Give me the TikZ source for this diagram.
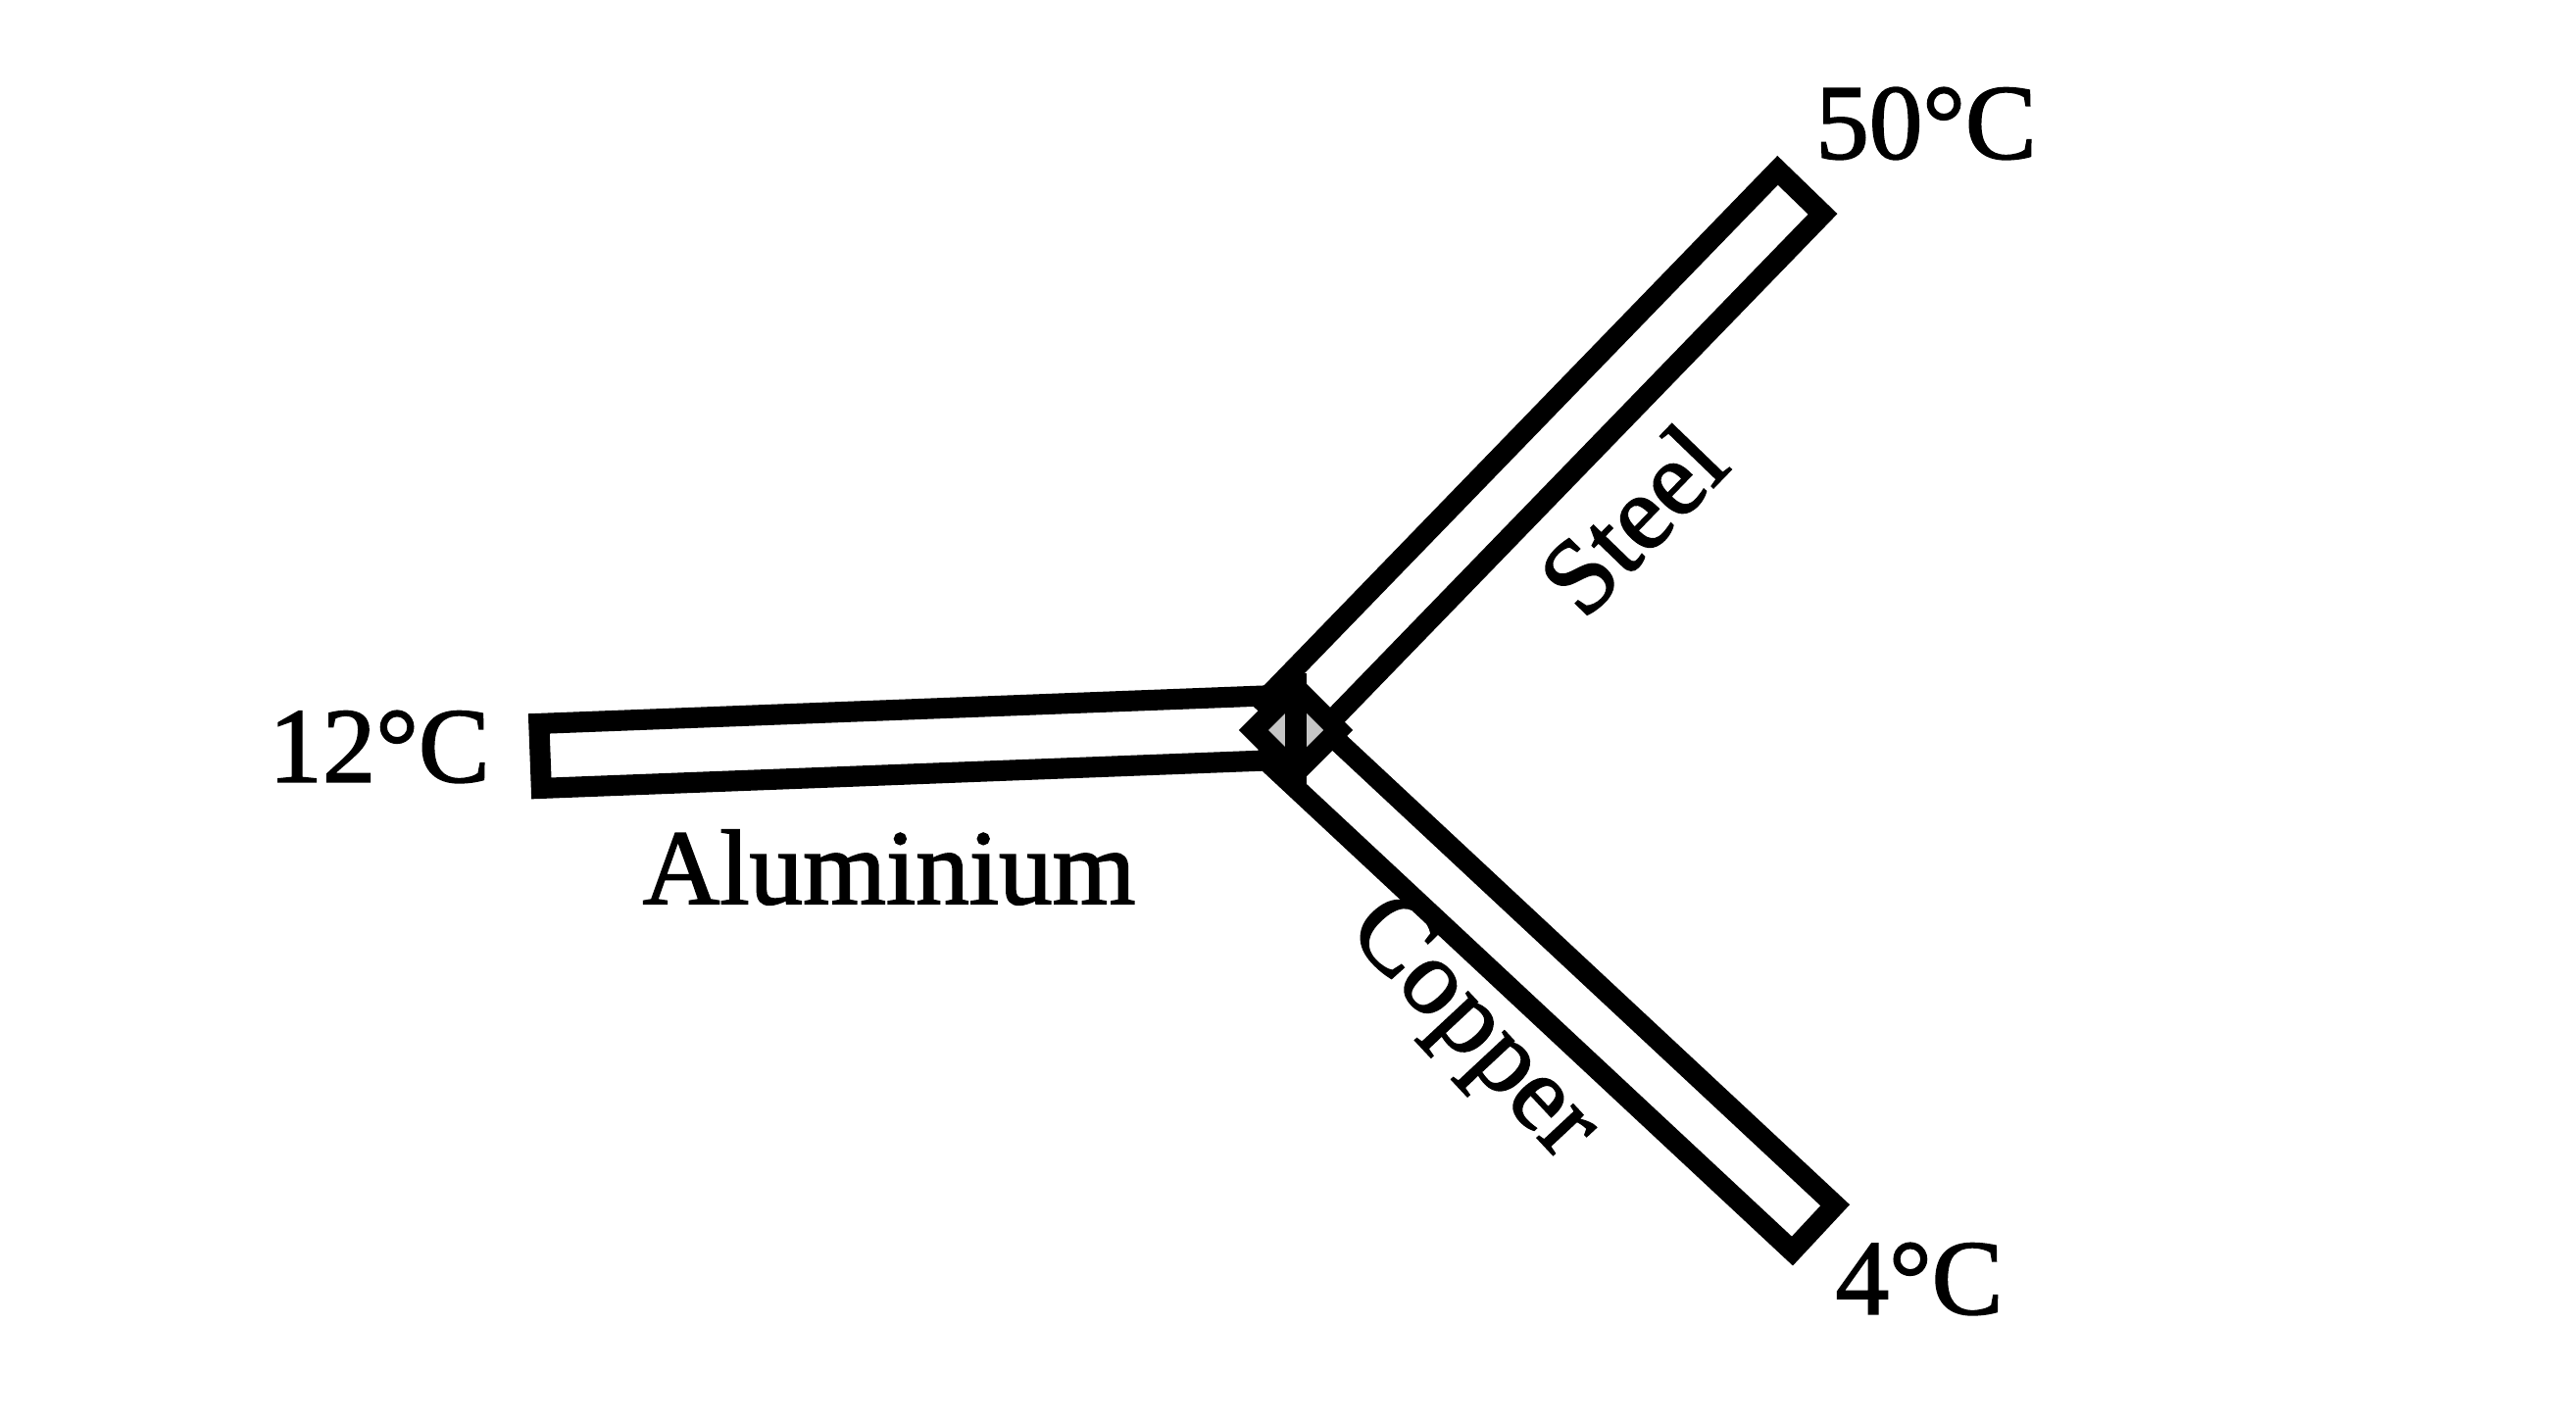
\documentclass[tikz,border=0pt]{standalone}
\usepackage{fontspec}
\setmainfont{Liberation Serif}
\newfontfamily\printfont[FakeBold=1.6]{Liberation Serif}
\usetikzlibrary{shapes.geometric,positioning}

\begin{document}
\begin{tikzpicture}[x=0.01cm,y=-0.01cm,
rod/.style={draw, rectangle, line width=6pt, inner sep=0pt, minimum height=0.64cm},
temp/.style={font=\printfont\fontsize{31}{36}\selectfont, inner sep=0pt},
metal/.style={font=\printfont\fontsize{31}{36}\selectfont, inner sep=0pt}]
\useasboundingbox (0,0) rectangle (2628,1452);
% the three rods
\node[rod, minimum width=7.5cm, minimum height=0.66cm, rotate=2.2] (al) at (926,757) {};
\node[rod, minimum width=7.54cm, rotate=45.9] (st) at (1574,467) {};
\node[rod, minimum width=7.36cm, rotate=-43] (cu) at (1581,1002) {};
\node[diamond, draw, line width=6pt, fill=gray!45, minimum size=0.95cm, inner sep=0pt] (jn) at (1322,745) {};
\draw[line width=6pt] (jn.north)--(jn.south);
% end temperatures
\node[temp] (t_al) at (387,762) {12°C};
\node[temp] (t_st) at (1965,126) {50°C};
\node[temp] (t_cu) at (1958,1305) {4°C};
% names
\node[metal] (n_al) at (907,885) {Aluminium};
\node[metal, rotate=46] (n_st) at (1665,530) {Steel};
\node[metal, rotate=-47] (n_cu) at (1500,1052) {Copper};
\end{tikzpicture}
\end{document}
